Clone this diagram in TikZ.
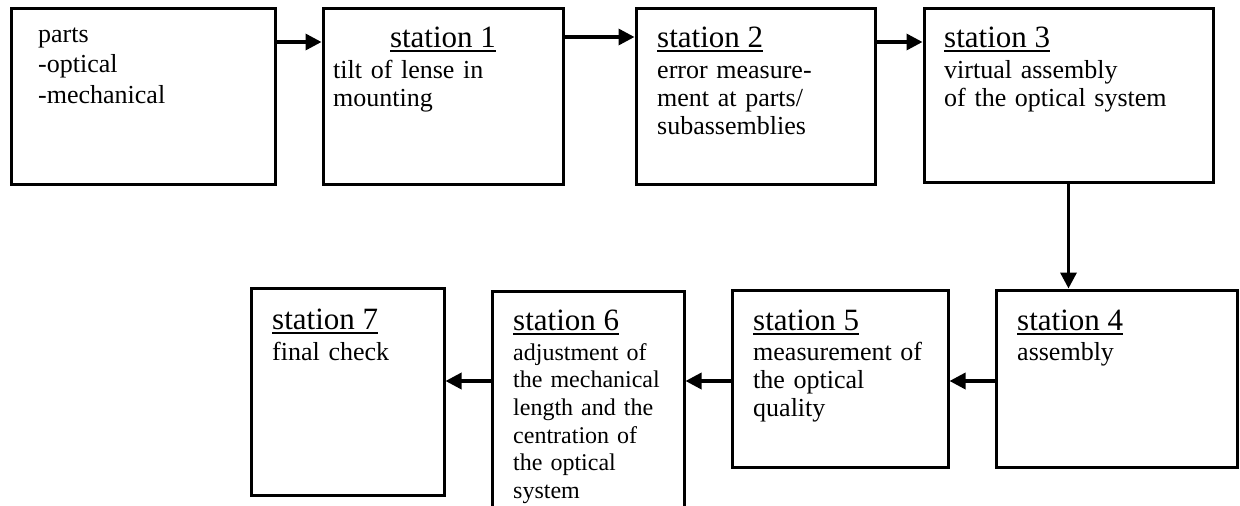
\documentclass[tikz,border=0pt]{standalone}
\usepackage{fontspec}
\setmainfont{Liberation Serif}
\usetikzlibrary{arrows.meta}
% underlined station heading with a heavier rule
\newcommand\sttitle[1]{\setbox0\hbox{#1}\rlap{\rule[-5pt]{\wd0}{1.8pt}}\box0}
\begin{document}
\begin{tikzpicture}[x=1pt,y=-1pt,
  box/.style={draw, line width=3pt, inner sep=0pt},
  flow/.style={line width=3.4pt, -{Triangle[length=16pt,width=16pt]}},
  ttl/.style={anchor=base west, inner sep=0pt, font=\fontsize{31}{31}\selectfont},
  txt/.style={anchor=base west, inner sep=0pt, text width=300pt, align=left,
              font=\fontsize{26}{28}\selectfont},
]
\useasboundingbox (0,0) rectangle (1240,506);

% station boxes
\node[box, minimum width=264pt, minimum height=176pt] (b0) at (143,96) {};
\node[box, minimum width=240pt, minimum height=176pt] (b1) at (443,96) {};
\node[box, minimum width=239pt, minimum height=176pt] (b2) at (755.5,96) {};
\node[box, minimum width=289pt, minimum height=174pt] (b3) at (1068.5,95) {};
\node[box, minimum width=241pt, minimum height=177pt] (b4) at (1116.5,378.5) {};
\node[box, minimum width=216pt, minimum height=177pt] (b5) at (840,378.5) {};
\node[box, minimum width=192pt, minimum height=229pt] (b6) at (588,405.5) {};
\node[box, minimum width=193pt, minimum height=207pt] (b7) at (347.5,391.5) {};

% texts
\node[txt, font=\fontsize{26}{30.5}\selectfont] (t0) at (38,42) {parts\\-optical\\-mechanical};

\node[ttl, anchor=base] (h1) at (443,47) {\sttitle{station 1}};
\node[txt] (t1) at (333,78) {tilt of lense in\\mounting};

\node[ttl] (h2) at (657,47) {\sttitle{station 2}};
\node[txt] (t2) at (657,78) {error measure-\\ment at parts/\\subassemblies};

\node[ttl] (h3) at (944,47) {\sttitle{station 3}};
\node[txt] (t3) at (944,78) {virtual assembly\\of the optical system};

\node[ttl] (h4) at (1017,330) {\sttitle{station 4}};
\node[txt] (t4) at (1017,360) {assembly};

\node[ttl] (h5) at (753,330) {\sttitle{station 5}};
\node[txt] (t5) at (753,360) {measurement of\\the optical\\quality};

\node[ttl] (h6) at (513,330) {\sttitle{station 6}};
\node[txt, font=\fontsize{24}{27.7}\selectfont] (t6) at (513,360)
  {adjustment of\\the mechanical\\length and the\\centration of\\the optical\\system};

\node[ttl] (h7) at (272,329) {\sttitle{station 7}};
\node[txt] (t7) at (272,360) {final check};

% flow arrows
\draw[flow] ([yshift=54pt]b0.east) -- ([yshift=54pt]b1.west);
\draw[flow] ([yshift=59pt]b1.east) -- ([yshift=59pt]b2.west);
\draw[flow] ([yshift=54pt]b2.east) coordinate (p23) -- (p23 -| b3.west);
\draw[flow] (b3.south) -- (b3.south |- b4.north);
\draw[flow] ([yshift=-2.5pt]b4.west) -- ([yshift=-2.5pt]b5.east);
\draw[flow] ([yshift=-2.5pt]b5.west) coordinate (p56) -- (p56 -| b6.east);
\draw[flow] (b6.west |- p56) coordinate (p67) -- (p67 -| b7.east);
\end{tikzpicture}
\end{document}
